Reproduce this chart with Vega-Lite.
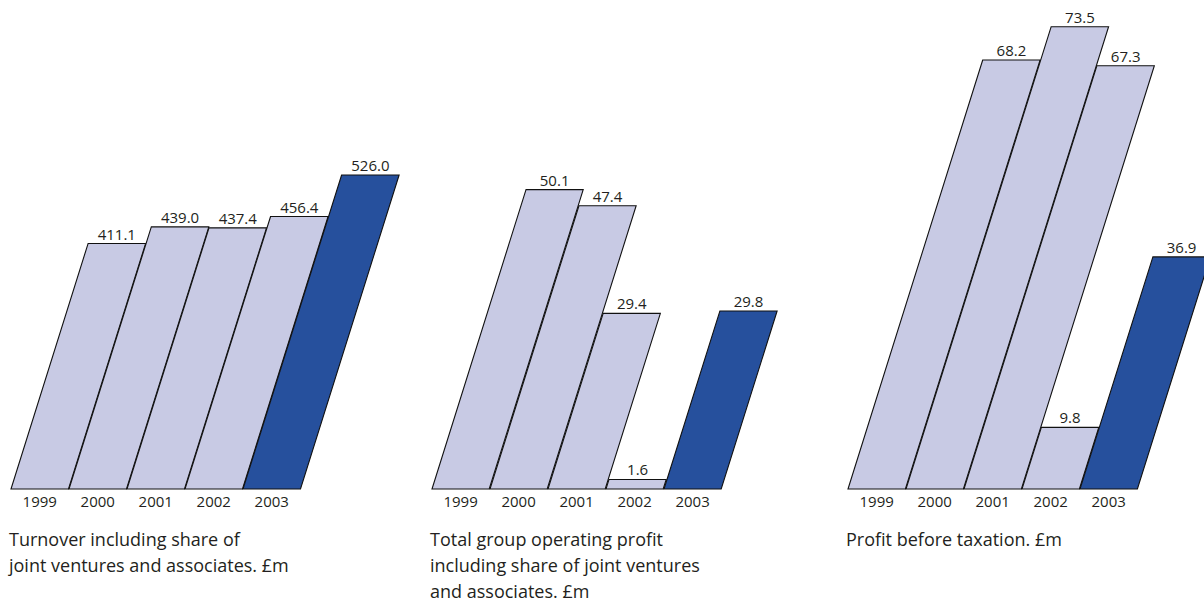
{
  "$schema": "https://vega.github.io/schema/vega-lite/v6.json",
  "background": "white",
  "padding": {"left": 8, "top": 5, "right": 0, "bottom": 0},
  "spacing": 65,
  "config": {
    "view": {"stroke": null},
    "font": "Open Sans",
    "header": {
      "labelOrient": "bottom", "labelPadding": 6, "labelFontSize": 15, "labelColor": "#231f20", "labelFont": "Open Sans",
      "titleOrient": "bottom", "titleAnchor": "start", "titleAlign": "left", "titleFontSize": 18, "titleFontWeight": "normal",
      "titleColor": "#231f20", "titlePadding": 12, "titleLineHeight": 26, "titleFont": "Open Sans"
    }
  },
  "data": {"values": [
    {"panel": "turnover", "year": "1999", "value": 411.1},
    {"panel": "turnover", "year": "2000", "value": 439.0},
    {"panel": "turnover", "year": "2001", "value": 437.4},
    {"panel": "turnover", "year": "2002", "value": 456.4},
    {"panel": "turnover", "year": "2003", "value": 526.0},
    {"panel": "op", "year": "1999", "value": 50.1},
    {"panel": "op", "year": "2000", "value": 47.4},
    {"panel": "op", "year": "2001", "value": 29.4},
    {"panel": "op", "year": "2002", "value": 1.6},
    {"panel": "op", "year": "2003", "value": 29.8},
    {"panel": "pbt", "year": "1999", "value": 68.2},
    {"panel": "pbt", "year": "2000", "value": 73.5},
    {"panel": "pbt", "year": "2001", "value": 67.3},
    {"panel": "pbt", "year": "2002", "value": 9.8},
    {"panel": "pbt", "year": "2003", "value": 36.9}
  ]},
  "hconcat": [
    {
      "spacing": 27,
      "hconcat": [
        {
          "transform": [{"filter": "datum.panel === 'turnover'"}],
          "bounds": "flush",
          "spacing": 0,
          "facet": {"column": {"field": "year", "type": "nominal", "title": ["Turnover including share of", "joint ventures and associates. £m"]}},
          "spec": {
            "width": 57.5, "height": 484,
            "layer": [
              {
                "transform": [
                  {"fold": ["value"], "as": ["k", "v"]},
                  {"impute": "v", "key": "k", "keyvals": ["base", "value"], "groupby": ["panel", "year"], "value": 0}
                ],
                "mark": {"type": "area", "orient": "horizontal", "x2Offset": 57.5, "stroke": "#111111", "strokeWidth": 1.1, "strokeJoin": "miter"},
                "encoding": {
                  "y": {"field": "v", "type": "quantitative", "scale": {"domain": [0, 810.7], "nice": false, "zero": true}, "axis": null},
                  "x": {"field": "v", "type": "quantitative", "scale": {"domain": [0, 810.7], "range": [0, 152], "nice": false, "zero": true}, "axis": null, "stack": null},
                  "x2": {"field": "v"},
                  "color": {"field": "year", "type": "nominal", "scale": {"domain": ["1999", "2000", "2001", "2002", "2003"], "range": ["#c8cae4", "#c8cae4", "#c8cae4", "#c8cae4", "#26509d"]}, "legend": null}
                }
              },
              {
                "mark": {"type": "text", "dx": 28.75, "dy": -4, "baseline": "alphabetic", "align": "center", "fontSize": 15, "color": "#231f20"},
                "encoding": {
                  "x": {"field": "value", "type": "quantitative"},
                  "y": {"field": "value", "type": "quantitative"},
                  "text": {"field": "value", "type": "quantitative", "format": ".1f"}
                }
              }
            ]
          }
        },
        {
          "transform": [{"filter": "datum.panel === 'op'"}],
          "bounds": "flush",
          "spacing": 0,
          "facet": {"column": {"field": "year", "type": "nominal", "title": ["Total group operating profit", "including share of joint ventures", "and associates. £m"]}},
          "spec": {
            "width": 57.2, "height": 484,
            "layer": [
              {
                "transform": [
                  {"fold": ["value"], "as": ["k", "v"]},
                  {"impute": "v", "key": "k", "keyvals": ["base", "value"], "groupby": ["panel", "year"], "value": 0}
                ],
                "mark": {"type": "area", "orient": "horizontal", "x2Offset": 57.2, "stroke": "#111111", "strokeWidth": 1.1, "strokeJoin": "miter"},
                "encoding": {
                  "y": {"field": "v", "type": "quantitative", "scale": {"domain": [0, 81.0], "nice": false, "zero": true}, "axis": null},
                  "x": {"field": "v", "type": "quantitative", "scale": {"domain": [0, 81.0], "range": [0, 152], "nice": false, "zero": true}, "axis": null, "stack": null},
                  "x2": {"field": "v"},
                  "color": {"field": "year", "type": "nominal", "scale": {"domain": ["1999", "2000", "2001", "2002", "2003"], "range": ["#c8cae4", "#c8cae4", "#c8cae4", "#c8cae4", "#26509d"]}, "legend": null}
                }
              },
              {
                "mark": {"type": "text", "dx": 28.6, "dy": -4, "baseline": "alphabetic", "align": "center", "fontSize": 15, "color": "#231f20"},
                "encoding": {
                  "x": {"field": "value", "type": "quantitative"},
                  "y": {"field": "value", "type": "quantitative"},
                  "text": {"field": "value", "type": "quantitative", "format": ".1f"}
                }
              }
            ]
          }
        }
      ]
    },
    {
      "transform": [{"filter": "datum.panel === 'pbt'"}],
      "bounds": "flush",
      "spacing": 0,
      "facet": {"column": {"field": "year", "type": "nominal", "title": ["Profit before taxation. £m"]}},
      "spec": {
        "width": 57.4, "height": 484,
        "layer": [
          {
            "transform": [
              {"fold": ["value"], "as": ["k", "v"]},
              {"impute": "v", "key": "k", "keyvals": ["base", "value"], "groupby": ["panel", "year"], "value": 0}
            ],
            "mark": {"type": "area", "orient": "horizontal", "x2Offset": 57.4, "stroke": "#111111", "strokeWidth": 1.1, "strokeJoin": "miter"},
            "encoding": {
              "y": {"field": "v", "type": "quantitative", "scale": {"domain": [0, 76.95], "nice": false, "zero": true}, "axis": null},
              "x": {"field": "v", "type": "quantitative", "scale": {"domain": [0, 76.95], "range": [0, 152], "nice": false, "zero": true}, "axis": null, "stack": null},
              "x2": {"field": "v"},
              "color": {"field": "year", "type": "nominal", "scale": {"domain": ["1999", "2000", "2001", "2002", "2003"], "range": ["#c8cae4", "#c8cae4", "#c8cae4", "#c8cae4", "#26509d"]}, "legend": null}
            }
          },
          {
            "mark": {"type": "text", "dx": 28.7, "dy": -4, "baseline": "alphabetic", "align": "center", "fontSize": 15, "color": "#231f20"},
            "encoding": {
              "x": {"field": "value", "type": "quantitative"},
              "y": {"field": "value", "type": "quantitative"},
              "text": {"field": "value", "type": "quantitative", "format": ".1f"}
            }
          }
        ]
      }
    }
  ]
}
